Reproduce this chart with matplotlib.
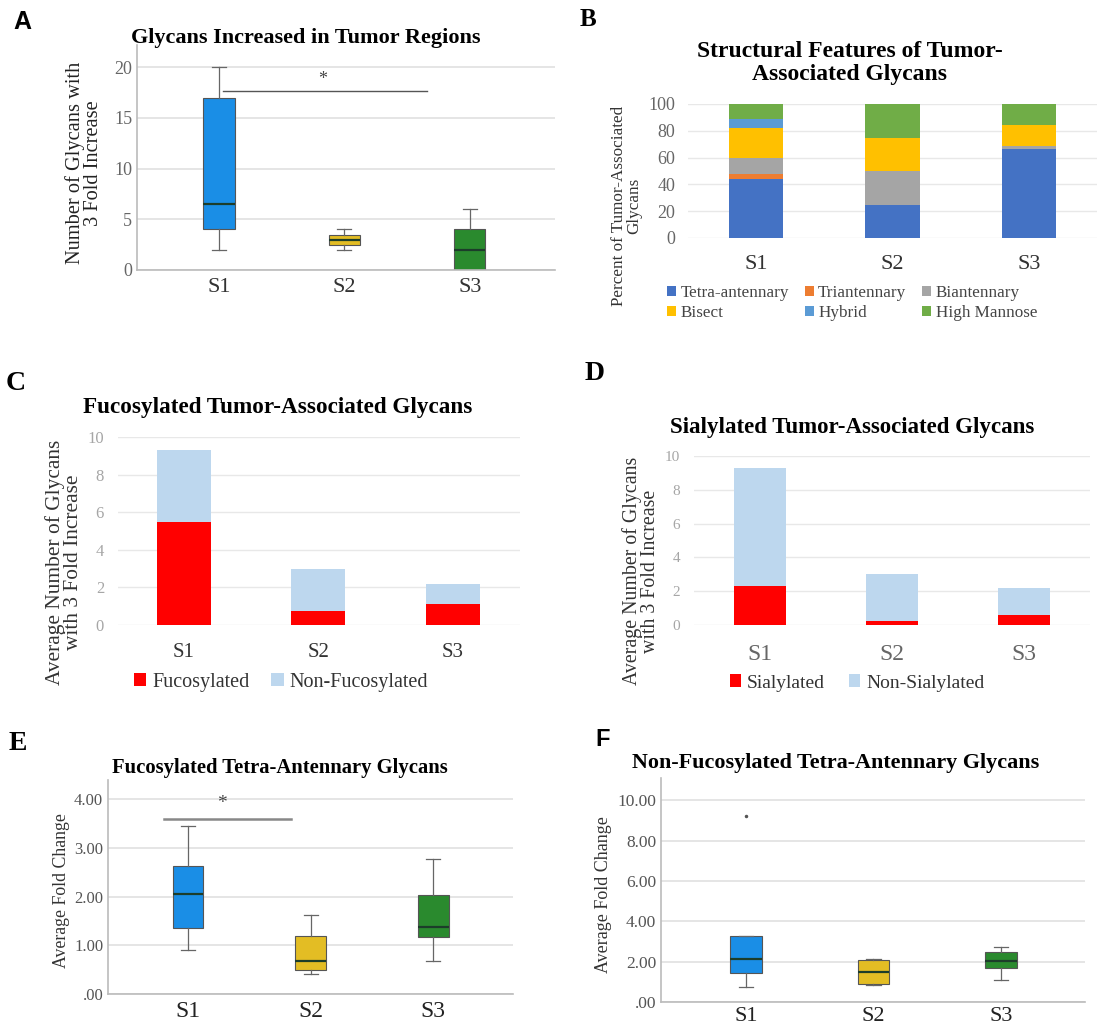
import matplotlib
matplotlib.use('Agg')
import matplotlib.pyplot as plt

W, H = 1107, 1025
SERIF = 'Liberation Serif'
SANS = 'Liberation Sans'

samples = ['S1', 'S2', 'S3']
box_colors = ['#1a8ee6', '#e3bd24', '#2a8a2e']

# A - glycans with 3 fold increase (box stats)
a_whislo = [2, 2, 0]
a_q1 = [4, 2.5, 0]
a_med = [6.5, 3, 2]
a_q3 = [17, 3.5, 4]
a_whishi = [20, 4, 6]

# B - structural features (percent)
b_features = ['Tetra-antennary', 'Triantennary', 'Biantennary', 'Bisect', 'Hybrid', 'High Mannose']
b_colors = ['#4472c4', '#ed7d31', '#a5a5a5', '#ffc000', '#5b9bd5', '#70ad47']
b_tetra = [44, 25, 66.7]
b_tri = [3.5, 0, 0]
b_bi = [12.5, 25, 2.3]
b_bisect = [22, 25, 15.5]
b_hybrid = [6.5, 0, 0]
b_highman = [11.5, 25, 15.5]

# C - fucosylated
c_fuc = [5.5, 0.75, 1.1]
c_nonfuc = [3.8, 2.25, 1.1]

# D - sialylated
d_sia = [2.3, 0.25, 0.6]
d_nonsia = [7.0, 2.75, 1.6]

# E - fucosylated tetra-antennary fold change
e_whislo = [0.9, 0.42, 0.67]
e_q1 = [1.35, 0.5, 1.18]
e_med = [2.05, 0.67, 1.38]
e_q3 = [2.63, 1.2, 2.03]
e_whishi = [3.45, 1.63, 2.77]
e_ticks = [0, 1, 2, 3, 4]
e_ticklabels = ['.00', '1.00', '2.00', '3.00', '4.00']

# F - non-fucosylated tetra-antennary fold change
f_whislo = [0.75, 0.85, 1.1]
f_q1 = [1.45, 0.9, 1.7]
f_med = [2.15, 1.5, 2.05]
f_q3 = [3.25, 2.1, 2.5]
f_whishi = [3.25, 2.15, 2.75]
f_fliers = [[9.2], [], []]
f_ticks = [0, 2, 4, 6, 8, 10]
f_ticklabels = ['.00', '2.00', '4.00', '6.00', '8.00', '10.00']

fig = plt.figure(figsize=(W / 100, H / 100), dpi=100)


def px_axes(l, t, r, b):
    return fig.add_axes([l / W, 1 - b / H, (r - l) / W, (b - t) / H])


def ftext(x, y, s, **kw):
    kw.setdefault('ha', 'center')
    kw.setdefault('va', 'center')
    kw.setdefault('family', SERIF)
    fig.text(x / W, 1 - y / H, s, **kw)


def box_panel(ax, lo, q1, med, q3, hi, fliers=None, width=0.25):
    stats = []
    for i in range(len(samples)):
        stats.append(dict(whislo=lo[i], q1=q1[i], med=med[i], q3=q3[i], whishi=hi[i],
                          fliers=fliers[i] if fliers else []))
    res = ax.bxp(stats, positions=[1, 2, 3], widths=width, patch_artist=True,
                 capwidths=width * 0.45,
                 boxprops=dict(edgecolor='#555555', linewidth=0.8),
                 medianprops=dict(color='#1c3d2a', linewidth=1.6),
                 whiskerprops=dict(color='#666666', linewidth=0.9),
                 capprops=dict(color='#666666', linewidth=0.9),
                 flierprops=dict(marker='.', markersize=3, markerfacecolor='#555555',
                                 markeredgecolor='#555555'))
    for patch, col in zip(res['boxes'], box_colors):
        patch.set_facecolor(col)
    for sp in ['top', 'right']:
        ax.spines[sp].set_visible(False)
    for sp in ['left', 'bottom']:
        ax.spines[sp].set_color('#bbbbbb')
        ax.spines[sp].set_linewidth(1.2)
    ax.yaxis.grid(True, color='#e3e3e3', linewidth=1.3)
    ax.set_axisbelow(True)
    ax.tick_params(length=0)
    ax.set_xticks([1, 2, 3])


def bar_axes_style(ax):
    for sp in ax.spines.values():
        sp.set_visible(False)
    ax.yaxis.grid(True, color='#e8e8e8', linewidth=1.0)
    ax.set_axisbelow(True)
    ax.tick_params(length=0)
    ax.set_xticks(range(len(samples)))


# ---------------- A ----------------
axA = px_axes(137, 45, 555, 270)
box_panel(axA, a_whislo, a_q1, a_med, a_q3, a_whishi)
axA.set_xticklabels(samples, family=SERIF, fontsize=16, color='#333333')
axA.set_xlim(0.347, 3.68)
axA.set_ylim(0, 22.2)
axA.set_yticks([0, 5, 10, 15, 20])
axA.set_yticklabels(['0', '5', '10', '15', '20'], family=SERIF, fontsize=13, color='#666666')
axA.tick_params(axis='x', pad=6)
axA.plot([1.03, 2.66], [17.7, 17.7], color='#555555', linewidth=1)
axA.text(1.83, 18.8, '*', ha='center', va='center', fontsize=13, color='#444444', family=SERIF)
ftext(22, 22, 'A', family=SANS, weight='bold', fontsize=18)
ftext(306, 38, 'Glycans Increased in Tumor Regions', weight='bold', fontsize=16)
ftext(84, 163, 'Number of Glycans with\n3 Fold Increase', rotation=90, fontsize=14.7,
      linespacing=0.95, color='#222222')

# ---------------- B ----------------
axB = px_axes(688, 104, 1097, 238)
bar_axes_style(axB)
b_series = [b_tetra, b_tri, b_bi, b_bisect, b_hybrid, b_highman]
bottom = [0, 0, 0]
handles = []
for name, col, vals in zip(b_features, b_colors, b_series):
    h = axB.bar(range(3), vals, bottom=bottom, width=0.4, color=col, label=name)
    handles.append(h)
    bottom = [bb + v for bb, v in zip(bottom, vals)]
axB.set_xlim(-0.5, 2.5)
axB.set_ylim(0, 100)
axB.set_yticks([0, 20, 40, 60, 80, 100])
axB.set_yticklabels(['0', '20', '40', '60', '80', '100'], family=SERIF, fontsize=13, color='#666666')
axB.set_xticklabels(samples, family=SERIF, fontsize=16, color='#333333')
axB.tick_params(axis='y', pad=9)
axB.tick_params(axis='x', pad=12)
order = [0, 3, 1, 4, 2, 5]
axB.legend([handles[i] for i in order], [b_features[i] for i in order], ncol=3,
           loc='center', bbox_to_anchor=(852 / W, 1 - 303 / H), bbox_transform=fig.transFigure,
           frameon=False, prop=dict(family=SERIF, size=12.3), handlelength=0.55,
           handleheight=0.55, handletextpad=0.25, columnspacing=0.9, labelspacing=0.2,
           labelcolor='#444444')
ftext(588, 19, 'B', weight='bold', fontsize=18)
ftext(850, 63, 'Structural Features of Tumor-\nAssociated Glycans', weight='bold', fontsize=17,
      linespacing=1.15)
ftext(627, 206, 'Percent of Tumor-Associated\nGlycans', rotation=90, fontsize=12.3,
      linespacing=0.95, color='#333333')

# ---------------- C ----------------
axC = px_axes(118, 437, 520, 625)
bar_axes_style(axC)
h1 = axC.bar(range(3), c_fuc, width=0.4, color='#ff0000')
h2 = axC.bar(range(3), c_nonfuc, bottom=c_fuc, width=0.4, color='#bdd7ee')
axC.set_xlim(-0.49, 2.5)
axC.set_ylim(0, 10)
axC.set_yticks([0, 2, 4, 6, 8, 10])
axC.set_yticklabels(['0', '2', '4', '6', '8', '10'], family=SERIF, fontsize=12, color='#a6a6a6')
axC.set_xticklabels(samples, family=SERIF, fontsize=15, color='#333333')
axC.tick_params(axis='x', pad=13)
axC.tick_params(axis='y', pad=10)
axC.legend([h1, h2], ['Fucosylated', 'Non-Fucosylated'], ncol=2, loc='center',
           bbox_to_anchor=(281 / W, 1 - 682 / H), bbox_transform=fig.transFigure,
           frameon=False, prop=dict(family=SERIF, size=14.5), handlelength=0.6,
           handleheight=0.6, handletextpad=0.3, columnspacing=1.1, labelcolor='#333333')
ftext(16, 383, 'C', weight='bold', fontsize=20)
ftext(278, 408, 'Fucosylated Tumor-Associated Glycans', weight='bold', fontsize=16.7)
ftext(64, 562, 'Average Number of Glycans\nwith 3 Fold Increase', rotation=90, fontsize=15.4,
      linespacing=0.95, color='#333333')

# ---------------- D ----------------
axD = px_axes(694, 456, 1090, 625)
bar_axes_style(axD)
h1 = axD.bar(range(3), d_sia, width=0.4, color='#ff0000')
h2 = axD.bar(range(3), d_nonsia, bottom=d_sia, width=0.4, color='#bdd7ee')
axD.set_xlim(-0.5, 2.5)
axD.set_ylim(0, 10)
axD.set_yticks([0, 2, 4, 6, 8, 10])
axD.set_yticklabels(['0', '2', '4', '6', '8', '10'], family=SERIF, fontsize=11, color='#a6a6a6')
axD.set_xticklabels(samples, family=SERIF, fontsize=17, color='#666666')
axD.tick_params(axis='x', pad=14)
axD.tick_params(axis='y', pad=10)
axD.legend([h1, h2], ['Sialylated', 'Non-Sialylated'], ncol=2, loc='center',
           bbox_to_anchor=(857 / W, 1 - 683 / H), bbox_transform=fig.transFigure,
           frameon=False, prop=dict(family=SERIF, size=14), handlelength=0.6,
           handleheight=0.6, handletextpad=0.3, columnspacing=1.2, labelcolor='#333333')
ftext(595, 373, 'D', weight='bold', fontsize=20)
ftext(852, 428, 'Sialylated Tumor-Associated Glycans', weight='bold', fontsize=16.5)
ftext(641, 571, 'Average Number of Glycans\nwith 3 Fold Increase', rotation=90, fontsize=14.3,
      linespacing=0.95, color='#333333')

# ---------------- E ----------------
axE = px_axes(108, 780, 513, 994)
box_panel(axE, e_whislo, e_q1, e_med, e_q3, e_whishi)
axE.set_xticklabels(samples, family=SERIF, fontsize=17, color='#222222')
axE.tick_params(axis='x', pad=5)
axE.set_xlim(0.347, 3.65)
axE.set_ylim(0, 4.4)
axE.set_yticks(e_ticks)
axE.set_yticklabels(e_ticklabels, family=SERIF, fontsize=12, color='#555555')
axE.plot([0.8, 1.84], [3.6, 3.6], color='#888888', linewidth=1.8)
axE.text(1.28, 3.92, '*', ha='center', va='center', fontsize=14, color='#444444', family=SERIF)
ftext(18, 743, 'E', weight='bold', fontsize=20)
ftext(280, 768, 'Fucosylated Tetra-Antennary Glycans', weight='bold', fontsize=14.9)
ftext(62, 891, 'Average Fold Change', rotation=90, fontsize=12.8, color='#333333')

# ---------------- F ----------------
axF = px_axes(661, 778, 1085, 1002)
box_panel(axF, f_whislo, f_q1, f_med, f_q3, f_whishi, fliers=f_fliers)
axF.set_xticklabels(samples, family=SERIF, fontsize=16, color='#222222')
axF.set_xlim(0.333, 3.66)
axF.set_ylim(0, 11.1)
axF.set_yticks(f_ticks)
axF.set_yticklabels(f_ticklabels, family=SERIF, fontsize=12.5, color='#555555')
ftext(603, 740, 'F', family=SANS, weight='bold', fontsize=17)
ftext(836, 763, 'Non-Fucosylated Tetra-Antennary Glycans', weight='bold', fontsize=15.9)
ftext(604, 895, 'Average Fold Change', rotation=90, fontsize=13, color='#333333')

fig.savefig('out.png', dpi=100)
